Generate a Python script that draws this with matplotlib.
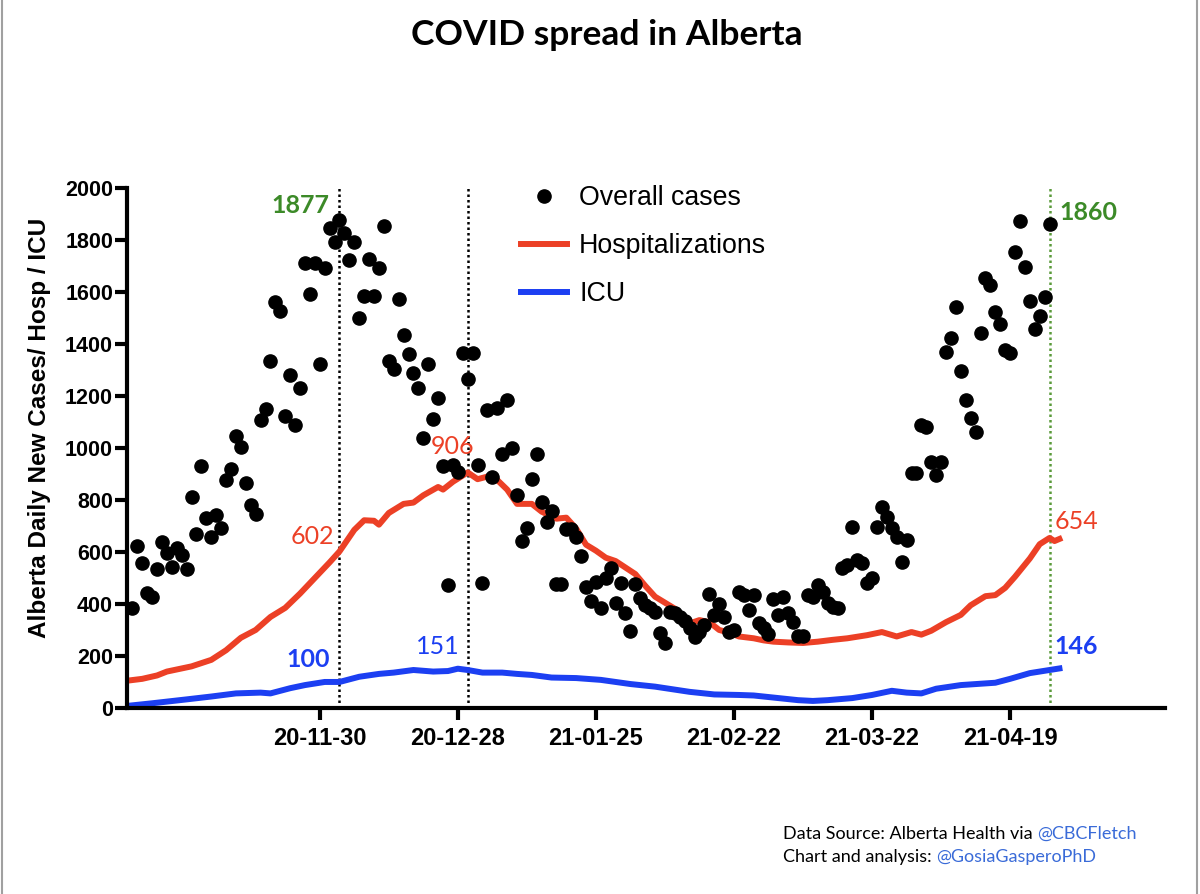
import matplotlib as mpl
mpl.use('agg')
import datetime as dt
from matplotlib import pyplot as plt
from matplotlib.lines import Line2D
import matplotlib.dates as mdates

# all day offsets below are counted from this date
ref_date = dt.date(2020, 11, 30)

# daily new cases, one value per day from 2020-10-23 to 2021-04-27
case_start = -38
cases = [383, 624, 556, 444, 428, 533, 640, 597, 543, 614, 588, 533, 813, 668, 931,
         730, 659, 742, 691, 877, 918, 1046, 1003, 864, 781, 746, 1108, 1149, 1335,
         1563, 1527, 1124, 1281, 1088, 1230, 1713, 1591, 1713, 1322, 1691, 1847, 1794,
         1877,
         1826, 1723, 1794, 1499, 1585, 1726, 1585, 1694, 1855, 1335, 1303, 1573, 1435,
         1360, 1290, 1230, 1037, 1322, 1110, 1194, 931, 473, 935, 909, 1367, 1264, 1367,
         935, 482, 1146, 890, 1155, 977, 1185, 999, 819, 644, 691, 880, 977, 794, 717,
         756, 476, 476, 688, 688, 659, 585, 464, 413, 483,
         386, 499, 537, 405, 482, 367, 297, 476, 422, 396, 383, 370, 290, 251, 370, 364,
         351, 336, 306, 272, 293, 319, 438, 358, 400, 351, 293, 300, 447, 435, 377, 435,
         326, 306, 285, 418, 358, 426, 364, 332, 277, 277, 435, 428, 473, 447, 405, 390,
         383, 537, 550, 697,
         569, 559, 480, 499, 697, 774, 736, 691, 659, 563, 646, 903, 903, 1088, 1079, 947,
         896, 947, 1370, 1422, 1543, 1297, 1185, 1114, 1063, 1443, 1653, 1627, 1524, 1477,
         1377, 1364, 1755, 1874, 1695, 1567, 1457, 1508, 1580, 1860]

hosp_day = [-39, -36, -33, -31, -28, -26, -22, -19, -16, -13, -10, -7, -4, -1, 2, 4, 7, 9,
            11, 12, 14, 17, 19, 21, 24, 25, 27, 30, 32, 35, 38, 40, 43, 45, 48, 50, 52, 54,
            56, 58, 60, 62, 64, 66, 68, 70, 72, 74, 75, 77, 79, 81, 83, 85, 88, 90, 92, 95,
            98, 101, 104, 107, 111, 114, 117, 120, 122, 124, 127, 130, 132, 135, 137, 139,
            141, 144, 146, 148, 149, 150]
hosp = [105, 112, 125, 140, 152, 160, 185, 222, 270, 300, 350, 385, 440, 500, 560, 602, 685,
        722, 720, 705, 750, 785, 790, 818, 850, 840, 870, 906, 880, 895, 840, 785, 785, 755,
        728, 732, 690, 628, 605, 578, 565, 540, 515, 470, 428, 405, 382, 345, 325, 338, 330,
        300, 290, 275, 268, 260, 255, 252, 250, 255, 262, 268, 280, 292, 275, 292, 282, 297,
        330, 358, 395, 430, 434, 462, 505, 575, 630, 654, 642, 650]

icu_day = [-39, -34, -27, -22, -17, -12, -10, -6, -3, 1, 4, 8, 12, 15, 19, 23, 26, 28, 30,
           33, 37, 40, 43, 47, 52, 57, 63, 68, 75, 80, 85, 88, 92, 97, 100, 103, 108, 112,
           116, 119, 122, 125, 130, 137, 140, 144, 148, 150]
icu = [8, 18, 33, 44, 56, 59, 56, 76, 88, 100, 100, 120, 131, 136, 146, 140, 142, 151, 146,
       136, 136, 131, 127, 117, 115, 108, 92, 82, 62, 52, 50, 48, 40, 30, 27, 30, 38, 50,
       66, 59, 56, 74, 88, 97, 112, 134, 146, 152]

tick_labels = ['20-11-30', '20-12-28', '21-01-25', '21-02-22', '21-03-22', '21-04-19']
marked_days = [4, 30]     # 1877 cases / 906 hosp
latest_day = 148          # 1860 cases


def to_date(d):
    return ref_date + dt.timedelta(days=d)


RED = '#ec4026'
BLUE = '#1c3ff2'
GREEN = '#3c8a28'
AX_FONT = 'Liberation Sans'
TXT_FONT = 'Lato'

fig = plt.figure(figsize=(12, 8.94), dpi=100)
ax = fig.add_axes([0.1058, 0.2081, 0.865, 0.5816])

case_dates = [to_date(case_start + i) for i in range(len(cases))]
l_hosp, = ax.plot([to_date(d) for d in hosp_day], hosp, color=RED, lw=4.3,
                  solid_joinstyle='round', zorder=2)
l_icu, = ax.plot([to_date(d) for d in icu_day], icu, color=BLUE, lw=4.3,
                 solid_joinstyle='round', zorder=2)
l_cases, = ax.plot(case_dates, cases, 'o', color='black', ms=9.5, zorder=3)

for d in marked_days:
    ax.axvline(to_date(d), color='black', lw=1.8, ls=(0, (1, 1.2)), zorder=1)
ax.axvline(to_date(latest_day), color='#5a9a3a', lw=1.8, ls=(0, (1, 1.2)), zorder=1)

ax.set_ylim(0, 2000)
ax.set_yticks(range(0, 2001, 200))
ax.set_xlim(mdates.date2num(to_date(0)) - 39.1, mdates.date2num(to_date(0)) + 171.4)
ax.set_xticks([to_date(28 * k) for k in range(len(tick_labels))])
ax.set_xticklabels(tick_labels)

for s in ['top', 'right']:
    ax.spines[s].set_visible(False)
for s in ['left', 'bottom']:
    ax.spines[s].set_linewidth(3)
ax.tick_params(axis='both', width=3, length=8.5)
ax.tick_params(axis='x', pad=5)
ax.tick_params(axis='y', pad=1.5)
for lab in ax.get_xticklabels():
    lab.set_fontfamily(AX_FONT)
    lab.set_fontweight('bold')
    lab.set_fontsize(17)
for lab in ax.get_yticklabels():
    lab.set_fontfamily(AX_FONT)
    lab.set_fontweight('bold')
    lab.set_fontsize(15.5)

fig.text(40 / 1200, 1 - 428 / 894, 'Alberta Daily New Cases/ Hosp / ICU', rotation=90,
         ha='center', va='center', fontfamily=AX_FONT, fontweight='bold', fontsize=17.5)

leg = ax.legend([l_cases, l_hosp, l_icu], ['Overall cases', 'Hospitalizations', 'ICU'],
                loc='upper left', bbox_to_anchor=(508 / 1200, 1 - 172 / 894),
                bbox_transform=fig.transFigure, frameon=False, borderpad=0,
                handlelength=1.7, handletextpad=0.45, labelspacing=0.82,
                prop={'family': AX_FONT, 'size': 19.3})

# value call-outs
lbl = dict(fontfamily=TXT_FONT, fontsize=18)
ax.text(to_date(2.6), 1931, '1877', color=GREEN, ha='right', va='center', fontweight='bold', **lbl)
ax.text(to_date(150.7), 1904, '1860', color=GREEN, ha='left', va='center', fontweight='bold', **lbl)
ax.text(to_date(3.0), 658, '602', color=RED, ha='right', va='center', **lbl)
ax.text(to_date(27.2), 1004, '906', color=RED, ha='center', va='center', **lbl)
ax.text(to_date(149.5), 719, '654', color=RED, ha='left', va='center', **lbl)
ax.text(to_date(2.6), 188, '100', color=BLUE, ha='right', va='center', fontweight='bold', **lbl)
ax.text(to_date(24.3), 235, '151', color=BLUE, ha='center', va='center', **lbl)
ax.text(to_date(149.5), 238, '146', color=BLUE, ha='left', va='center', fontweight='bold', **lbl)

fig.text(0.506, 1 - 35 / 894, 'COVID spread in Alberta', ha='center', va='center',
         fontfamily=TXT_FONT, fontweight='bold', fontsize=25.5)

foot = dict(fontfamily=TXT_FONT, fontsize=13)
t1 = fig.text(783 / 1200, 1 - 834 / 894, 'Data Source: Alberta Health via ', va='center', **foot)
ax.annotate('@CBCFletch', xy=(1, 0), xycoords=t1, va='bottom', color='#3a6bd8',
            annotation_clip=False, **foot)
t2 = fig.text(783 / 1200, 1 - 857 / 894, 'Chart and analysis: ', va='center', **foot)
ax.annotate('@GosiaGasperoPhD', xy=(1, 0), xycoords=t2, va='bottom', color='#3a6bd8',
            annotation_clip=False, **foot)

# grey page edges of the original screenshot
for xe in (0.0015, 0.9975):
    fig.add_artist(Line2D([xe, xe], [0, 1], transform=fig.transFigure, color='#a0a0a0', lw=1.5))

fig.savefig('out.png', dpi=100)
